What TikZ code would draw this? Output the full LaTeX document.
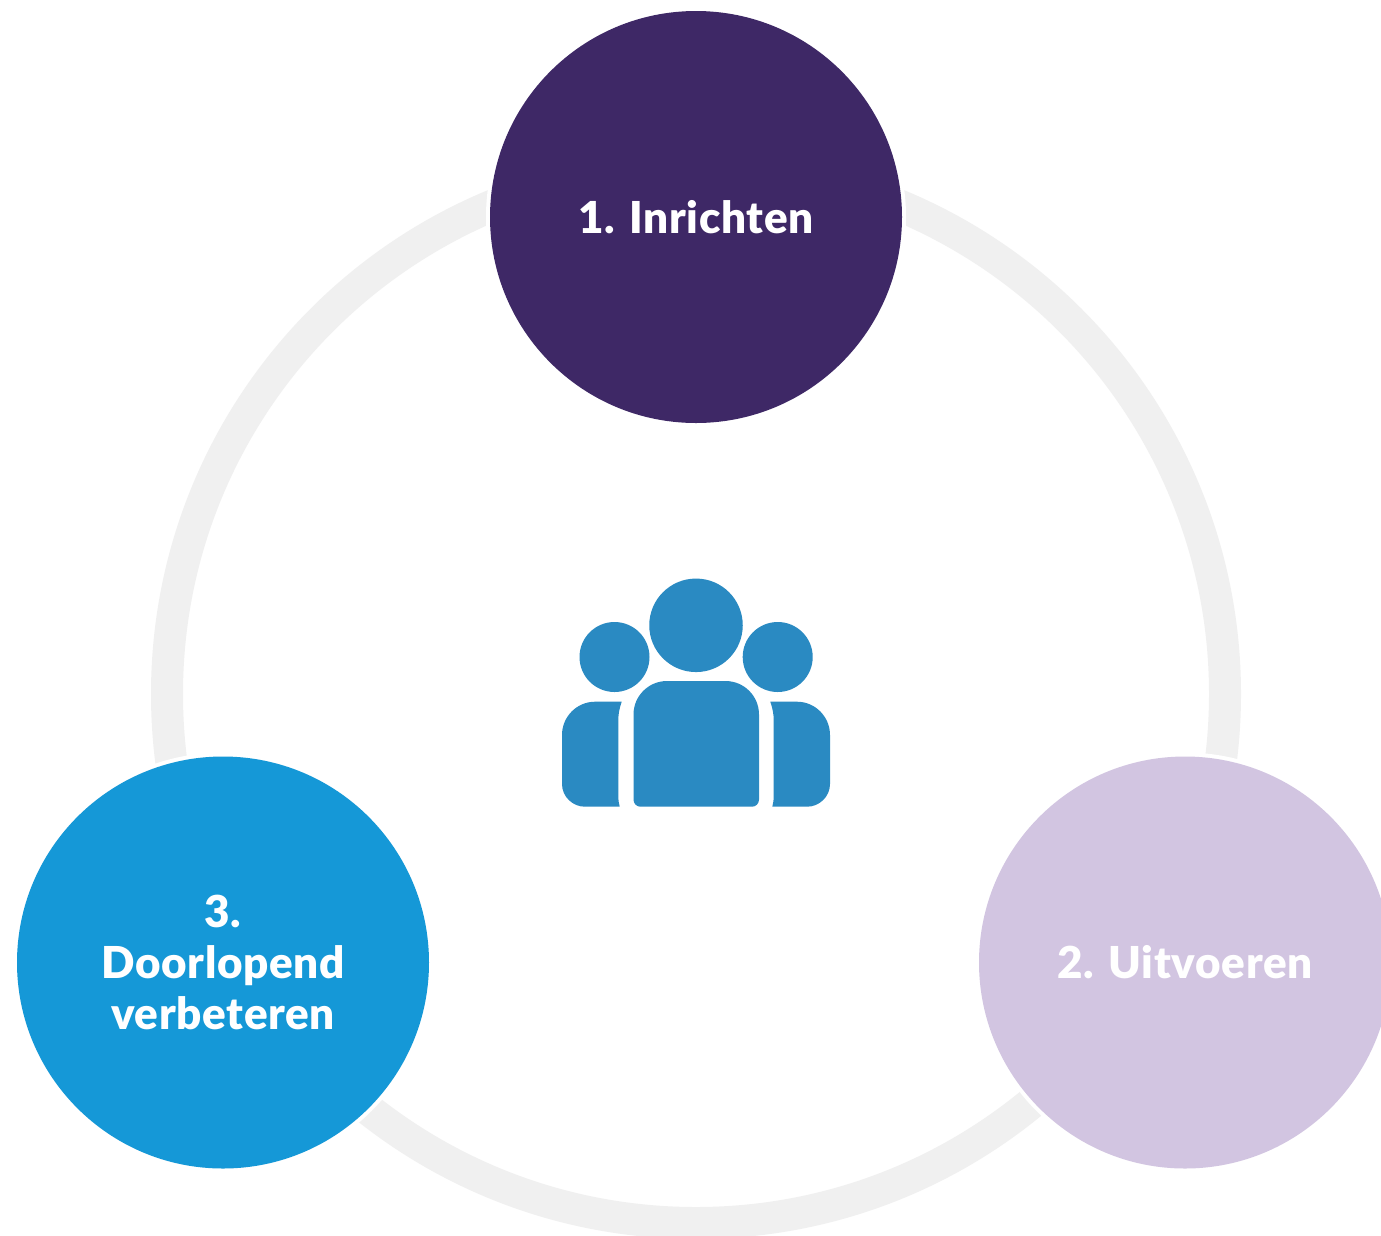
\documentclass[tikz,border=0pt]{standalone}
\usepackage{fontspec}
\setmainfont{Lato}[BoldFont={Lato Black},BoldFeatures={LetterSpace=1.5}]
\definecolor{ringgrey}{HTML}{F0F0F0}
\definecolor{stepdark}{HTML}{3E2866}
\definecolor{steplilac}{HTML}{D2C5E1}
\definecolor{stepblue}{HTML}{1598D7}
\definecolor{iconblue}{HTML}{2A8AC2}
\tikzset{
  stepcircle/.style={circle,minimum size=412pt,inner sep=0pt,outer sep=0pt,text=white,align=center,
    font=\fontsize{44}{51}\selectfont\bfseries},
  headcircle/.style={circle,fill=iconblue,inner sep=0pt,outer sep=0pt},
}
\begin{document}
\begin{tikzpicture}[x=1pt,y=-1pt]
\useasboundingbox (0,0) rectangle (1381,1235);
\clip (0,0) rectangle (1381,1235);
\fill[white] (0,0) rectangle (1381,1235);
\coordinate (ringc) at (696,694);
\draw[ringgrey,line width=32pt] (ringc) circle[radius=529pt];
% white halos that cut the ring
\coordinate (c1) at (696,217);
\coordinate (c2) at (1185,962.5);
\coordinate (c3) at (223,962.5);
\fill[white] (c1) circle[radius=210pt];
\fill[white] (c2) circle[radius=210pt];
\fill[white] (c3) circle[radius=210pt];
\node[stepcircle,fill=stepdark] (inrichten) at (c1) {1. Inrichten};
\node[stepcircle,fill=steplilac] (uitvoeren) at (c2) {2. Uitvoeren};
\node[stepcircle,fill=stepblue] (verbeteren) at (c3) {3.\\Doorlopend\\verbeteren};
% people icon
\node[headcircle,minimum size=93.5pt] (headmid) at (696,625.3) {};
\node[headcircle,minimum size=70pt] (headleft) at (614.5,657) {};
\node[headcircle,minimum size=70pt] (headright) at (777.7,657) {};
\fill[iconblue] (633.5,714.5) .. controls (633.5,696) and (648.5,681) .. (667,681)
  -- (725.5,681) .. controls (744,681) and (759,696) .. (759,714.5)
  -- (759,799.5) .. controls (759,803.5) and (756,806.7) .. (752,806.7)
  -- (640.5,806.7) .. controls (636.5,806.7) and (633.5,803.5) .. (633.5,799.5) -- cycle;
\fill[iconblue] (562,735) .. controls (562,716.5) and (577,701.7) .. (595,701.7)
  -- (621.7,701.7) .. controls (619.5,708) and (618.3,714) .. (618.3,720)
  -- (618.3,796) .. controls (618.3,800) and (618.8,803.5) .. (619.7,806.7)
  -- (585,806.7) .. controls (572.5,806.7) and (562,796.5) .. (562,784) -- cycle;
\fill[iconblue] (830,735) .. controls (830,716.5) and (815,701.7) .. (797,701.7)
  -- (770.3,701.7) .. controls (772.5,708) and (773.7,714) .. (773.7,720)
  -- (773.7,796) .. controls (773.7,800) and (773.2,803.5) .. (772.3,806.7)
  -- (807,806.7) .. controls (819.5,806.7) and (830,796.5) .. (830,784) -- cycle;
\end{tikzpicture}
\end{document}
